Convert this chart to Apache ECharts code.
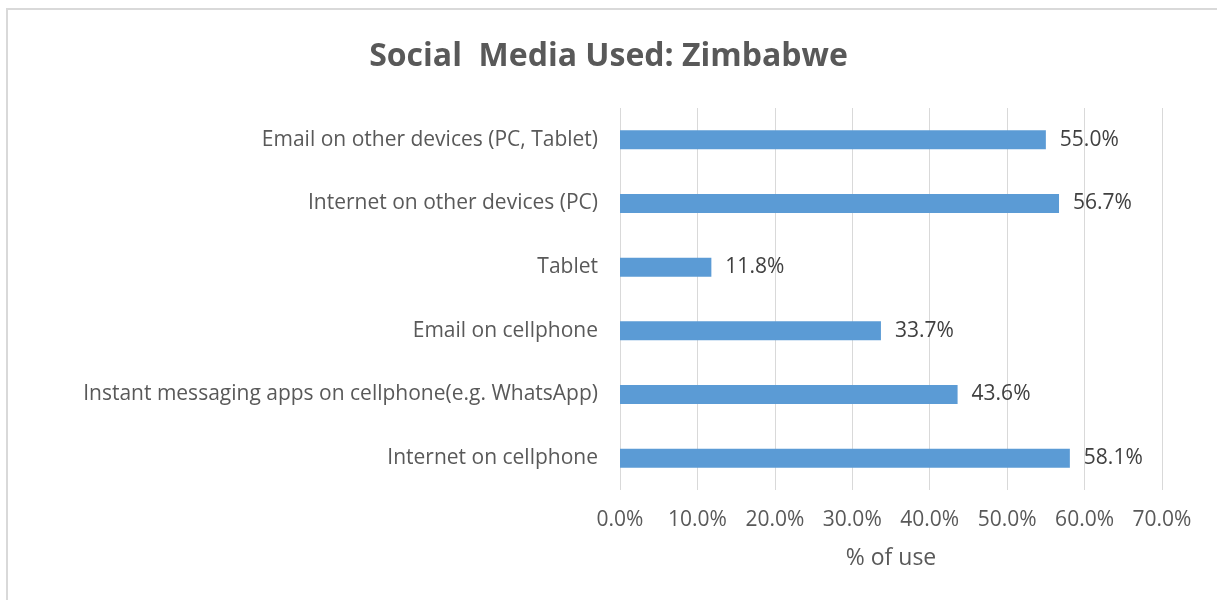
<!DOCTYPE html>
<html>
<head>
<meta charset="utf-8">
<script src="https://cdn.jsdelivr.net/npm/echarts@6/dist/echarts.min.js"></script>
<style>
  html, body { margin: 0; padding: 0; background: #fff; overflow: hidden; }
  #frame { position: absolute; left: 6px; top: 8px; width: 1400px; height: 800px; border: 2px solid #d9d9d9; box-sizing: border-box; }
  #chart { position: absolute; left: 0; top: 0; width: 1217px; height: 600px; }
</style>
</head>
<body>
<div id="frame"></div>
<div id="chart"></div>
<script>
// Categories listed bottom to top (category axis on y starts at the bottom)
const categories = [
  'Internet on cellphone',
  'Instant messaging apps on cellphone(e.g. WhatsApp)',
  'Email on cellphone',
  'Tablet',
  'Internet on other devices (PC)',
  'Email on other devices (PC, Tablet)'
];
const usage = [58.1, 43.6, 33.7, 11.8, 56.7, 55.0];
const xTicks = [0, 10, 20, 30, 40, 50, 60, 70];

const FONT = 'Open Sans';
const chart = echarts.init(document.getElementById('chart'), null, { renderer: 'canvas' });
chart.setOption({
  animation: false,
  title: {
    text: 'Social  Media Used: Zimbabwe',
    left: 'center',
    top: 36,
    textStyle: { fontFamily: FONT, fontSize: 32, fontWeight: 'bold', color: '#595959' }
  },
  grid: { left: 620, right: 55, top: 108, bottom: 110, containLabel: false },
  xAxis: {
    type: 'value',
    min: xTicks[0],
    max: xTicks[xTicks.length - 1],
    interval: 10,
    name: '% of use',
    nameLocation: 'middle',
    nameGap: 57,
    nameTextStyle: { fontFamily: FONT, fontSize: 23, color: '#595959' },
    axisLine: { show: false },
    axisTick: { show: false },
    axisLabel: {
      fontFamily: FONT, fontSize: 21, color: '#595959', margin: 20,
      formatter: v => v.toFixed(1) + '%'
    },
    splitLine: { show: true, lineStyle: { color: '#d9d9d9', width: 1 } }
  },
  yAxis: {
    type: 'category',
    data: categories,
    axisLine: { show: false },
    axisTick: { show: false },
    axisLabel: { fontFamily: FONT, fontSize: 21, color: '#595959', margin: 22 }
  },
  series: [{
    type: 'bar',
    data: usage,
    barWidth: 19,
    itemStyle: { color: '#5b9bd5' },
    label: {
      show: true,
      position: 'right',
      distance: 14,
      fontFamily: FONT, fontSize: 21, color: '#404040',
      formatter: p => p.value.toFixed(1) + '%'
    }
  }]
});
</script>
</body>
</html>
